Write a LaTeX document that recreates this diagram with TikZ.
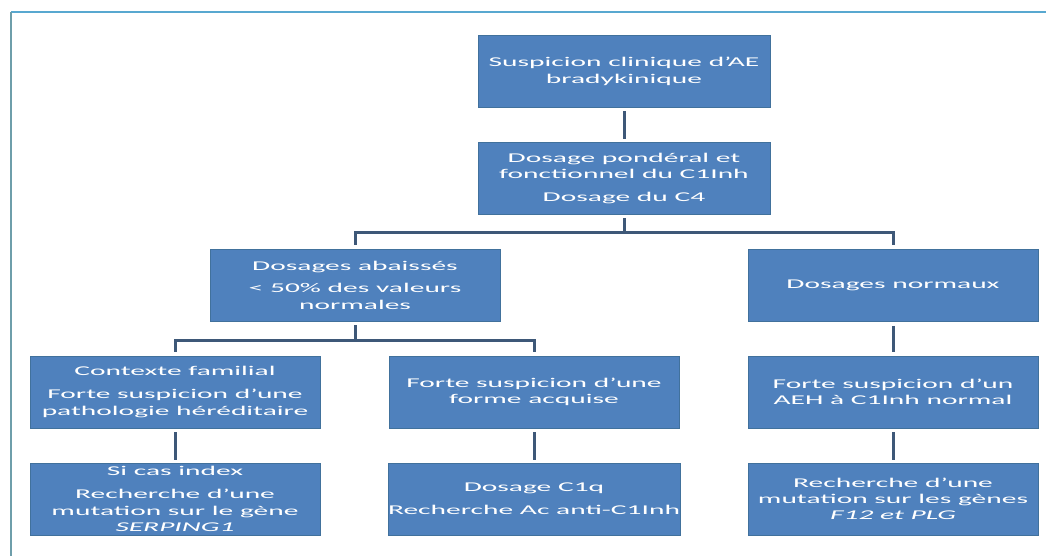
\documentclass[tikz,border=0pt]{standalone}
\usepackage{fontspec}
\setmainfont{Carlito}[FakeStretch=2.2]
\usetikzlibrary{calc}
\definecolor{boxfill}{HTML}{4F81BD}
\definecolor{boxline}{HTML}{41719C}
\definecolor{connc}{HTML}{3E5878}
\definecolor{frametop}{HTML}{58A8D0}
\definecolor{frameleft}{HTML}{6E9EAA}
\tikzset{
  flowbox/.style={draw=boxline, line width=0.6pt, fill=boxfill, text=white,
    minimum width=290pt, minimum height=72pt, inner sep=0pt, align=center,
    font=\fontsize{13.4}{16.3}\selectfont},
  conn/.style={draw=connc, line width=3pt, line join=miter},
  gapped/.style={shorten <=3.5pt, shorten >=3.5pt}
}
\begin{document}
\begin{tikzpicture}[x=1pt,y=-1pt]
\useasboundingbox (0,0) rectangle (1046,556);
\fill[white] (0,0) rectangle (1046,556);
\draw[frametop, line width=1.8pt] (11,12) -- (1046,12);
\draw[frameleft, line width=1.8pt] (11,12) -- (11,556);

\node[flowbox, minimum width=292pt] (b1) at (624,71.5) {Suspicion clinique d’AE\\bradykinique};
\node[flowbox, minimum width=292pt] (b2) at (624,178.5) {Dosage pondéral et\\fonctionnel du C1Inh\\[6.5pt]Dosage du C4};
\node[flowbox] (b3) at (355,285) {Dosages abaissés\\[6.5pt]< 50\% des valeurs\\normales};
\node[flowbox] (b4) at (893,285) {Dosages normaux};
\node[flowbox] (b5) at (175,392) {Contexte familial\\[6.5pt]Forte suspicion d’une\\pathologie héréditaire};
\node[flowbox] (b6) at (534,392) {Forte suspicion d’une\\forme acquise};
\node[flowbox] (b7) at (893,392) {Forte suspicion d’un\\AEH à C1Inh normal};
\node[flowbox] (b8) at (175,499) {Si cas index\\[6.5pt]Recherche d’une\\mutation sur le gène\\\textit{SERPING1}};
\node[flowbox] (b9) at (534,499) {Dosage C1q\\[6.5pt]Recherche Ac anti-C1Inh};
\node[flowbox] (b10) at (893,499) {Recherche d’une\\mutation sur les gènes\\\textit{F12 et PLG}};

\draw[conn, gapped] (b1.south) -- (b2.south |- b2.north);
\draw[conn, shorten <=3.5pt, shorten >=4pt] (b2.south) -- ++(0,17.5) -| (b3.north);
\draw[conn, shorten >=4pt] ($(b2.south)+(0,17.5)$) -| (b4.north);
\draw[conn, shorten <=4pt, shorten >=4pt] (b3.south) -- ++(0,19) -| (b5.north);
\draw[conn, shorten >=4pt] ($(b3.south)+(0,19)$) -| (b6.north);
\draw[conn, shorten <=4.5pt, shorten >=4pt] (b4.south) -- (b7.north);
\draw[conn, shorten <=4pt, shorten >=3pt] (b5.south) -- (b8.north);
\draw[conn, shorten <=4pt, shorten >=3pt] (b6.south) -- (b9.north);
\draw[conn, shorten <=4pt, shorten >=3pt] (b7.south) -- (b10.north);
\end{tikzpicture}
\end{document}
